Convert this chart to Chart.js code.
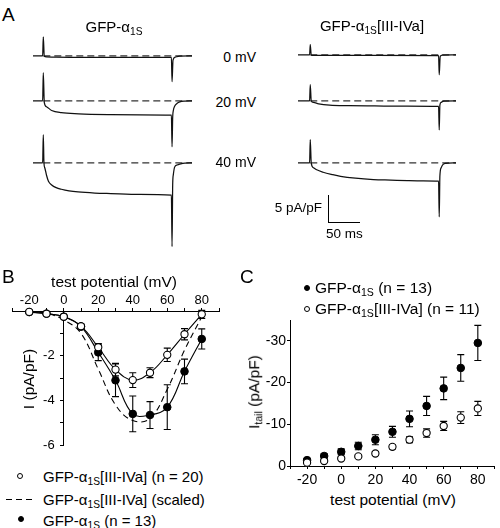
<!DOCTYPE html>
<html>
<head>
<meta charset="utf-8">
<script src="https://cdn.jsdelivr.net/npm/chart.js@4.4.1/dist/chart.umd.min.js"></script>
<style>
  html, body { margin: 0; padding: 0; background: #fff; }
  #fig { position: relative; width: 500px; height: 528px; overflow: hidden;
         font-family: "Liberation Sans", Arial, sans-serif; color: #000; }
  #fig canvas { position: absolute; }
  .t { position: absolute; white-space: nowrap; line-height: 1; }
  .t sub { font-size: 0.68em; vertical-align: -0.3em; line-height: 0; }
  .mk { position: absolute; border-radius: 50%; box-sizing: border-box; }
</style>
</head>
<body>
<div id="fig"></div>
<script>
// ---- panel A: sweeps, time in ms and current in pA/pF
const wtT0 = [-16, -1, 0, 1.5, 5, 20, 60, 120, 199, 200, 201.5, 205, 212, 231];
const wtI0 = [0, 0, 3.5, -0.1, -0.2, -0.25, -0.3, -0.3, -0.3, -4.8, -0.8, -0.25, -0.05, 0];
const wtT20 = [-16, -1, 0, 1.5, 5, 13, 28, 55, 105, 150, 199, 200, 201, 202, 204, 208, 212, 220, 231];
const wtI20 = [0, 0, 5.2, -0.3, -1.1, -1.8, -2.2, -2.4, -2.55, -2.6, -2.65, -8.5, -3.0, -1.8, -1.0, -0.45, -0.2, -0.05, 0];
const wtT40 = [-16, -1, 0, 1, 2.5, 5, 8, 13, 20, 28, 40, 54, 80, 105, 150, 199, 200, 201, 202, 204, 208, 212, 220, 231];
const wtI40 = [0, 0, 5.2, 0, -1.0, -2.3, -3.4, -4.1, -4.6, -4.9, -5.2, -5.4, -5.6, -5.7, -5.85, -6.0, -15.5, -4.0, -2.2, -0.8, -0.4, -0.25, -0.05, 0];

const mutT0 = [-19, -1, 0, 1.5, 5, 100, 199, 200, 201.5, 205, 226];
const mutI0 = [0, 0, 1.9, -0.05, -0.1, -0.12, -0.15, -3.7, -0.3, -0.05, 0];
const mutT20 = [-19, -1, 0, 1.5, 5, 13, 30, 60, 100, 150, 199, 200, 201, 203, 207, 226];
const mutI20 = [0, 0, 3.0, 0, -0.3, -0.55, -0.8, -0.9, -0.95, -1.0, -1.05, -5.4, -0.8, -0.3, -0.05, 0];
const mutT40 = [-19, -1, 0, 1.5, 5, 10, 20, 35, 47, 70, 98, 125, 151, 175, 199, 200, 201, 203, 206, 210, 226];
const mutI40 = [0, 0, 4.3, 0, -0.9, -1.3, -1.75, -2.2, -2.5, -2.85, -3.1, -3.2, -3.3, -3.35, -3.4, -10, -2.5, -0.9, -0.3, -0.1, 0];

// ---- panel B: I-V (pA/pF) with SEM
const potB = [-20, -10, 0, 10, 20, 30, 40, 50, 60, 70, 80];
const mutIV = [-0.04, -0.12, -0.26, -0.68, -1.62, -2.62, -3.09, -2.76, -1.96, -1.04, -0.15];
const mutIVErr = [0.03, 0.04, 0.06, 0.08, 0.16, 0.28, 0.33, 0.22, 0.3, 0.25, 0.18];
const wtIV = [-0.05, -0.12, -0.25, -0.7, -1.85, -3.1, -4.6, -4.65, -4.3, -2.7, -1.25];
const wtIVErr = [0.03, 0.04, 0.06, 0.1, 0.37, 0.73, 0.8, 0.6, 1.0, 0.55, 0.45];
const mutScaled = [-0.03, -0.1, -0.4, -1.0, -2.6, -4.2, -4.9, -4.8, -3.5, -1.75, -0.26];

// ---- panel C: tail currents (pA/pF) with SEM
const potC = [-20, -10, 0, 10, 20, 30, 40, 50, 60, 70, 80];
const wtTail = [-1.4, -2.4, -3.4, -4.8, -6.3, -8.2, -11.3, -14.4, -18.6, -23.5, -29.5];
const wtTailErr = [0.4, 0.5, 0.7, 0.9, 1.2, 1.3, 1.9, 2.3, 2.7, 3.2, 4.2];
const mutTail = [-0.8, -1.2, -1.8, -2.3, -3.0, -4.6, -6.3, -7.9, -9.6, -11.6, -13.8];
const mutTailErr = [0.2, 0.3, 0.3, 0.3, 0.4, 0.5, 0.7, 1.0, 1.1, 1.4, 1.7];

const FONT = '"Liberation Sans", Arial, sans-serif';
const fig = document.getElementById('fig');

function addCanvas(left, top, w, h) {
  const c = document.createElement('canvas');
  c.width = w; c.height = h;
  c.style.left = left + 'px'; c.style.top = top + 'px';
  c.style.width = w + 'px'; c.style.height = h + 'px';
  fig.appendChild(c);
  return c;
}

function label(html, x, y, size, align, rot) {
  const d = document.createElement('div');
  d.className = 't';
  d.innerHTML = html;
  d.style.fontSize = size + 'px';
  d.style.left = x + 'px';
  d.style.top = y + 'px';
  const tx = align === 'center' ? '-50%' : (align === 'right' ? '-100%' : '0');
  d.style.transform = 'translate(' + tx + ',-50%)' + (rot ? ' rotate(' + rot + 'deg)' : '');
  fig.appendChild(d);
}

function marker(x, y, r, filled) {
  const d = document.createElement('div');
  d.className = 'mk';
  d.style.left = (x - r) + 'px'; d.style.top = (y - r) + 'px';
  d.style.width = 2 * r + 'px'; d.style.height = 2 * r + 'px';
  d.style.background = filled ? '#000' : '#fff';
  d.style.border = '1.1px solid #000';
  fig.appendChild(d);
}

const pts = (xs, ys) => xs.map((v, k) => ({x: v, y: ys[k]}));

const base = {
  responsive: false, animation: false, devicePixelRatio: 1, events: [],
  plugins: {legend: {display: false}, tooltip: {enabled: false}}
};

// error bars drawn under the markers, from each dataset's "errors" array
const errorBars = {
  id: 'errorBars',
  beforeDatasetsDraw(chart) {
    const {ctx, scales: {x, y}} = chart;
    ctx.save();
    ctx.strokeStyle = '#000';
    ctx.lineWidth = 1.1;
    chart.data.datasets.forEach(ds => {
      if (!ds.errors) return;
      ds.data.forEach((p, k) => {
        const e = ds.errors[k];
        const px = x.getPixelForValue(p.x);
        const y1 = y.getPixelForValue(p.y - e);
        const y2 = y.getPixelForValue(p.y + e);
        ctx.beginPath();
        ctx.moveTo(px, y1); ctx.lineTo(px, y2);
        ctx.moveTo(px - 3.5, y1); ctx.lineTo(px + 3.5, y1);
        ctx.moveTo(px - 3.5, y2); ctx.lineTo(px + 3.5, y2);
        ctx.stroke();
      });
    });
    ctx.restore();
  }
};

// ---------------- panel A ----------------
const PX_MS = 0.644, PX_I = 5.4, I_MIN = -18, I_MAX = 7;

function traceChart(left, baseline, ts, is) {
  const t0 = ts[0], t1 = ts[ts.length - 1];
  const w = Math.round((t1 - t0) * PX_MS), h = Math.round((I_MAX - I_MIN) * PX_I);
  const c = addCanvas(left, baseline - I_MAX * PX_I, w, h);
  new Chart(c, {
    type: 'line',
    data: {datasets: [
      {data: pts(ts, is), borderColor: '#111', borderWidth: 1.25, pointRadius: 0,
       cubicInterpolationMode: 'monotone', clip: false},
      {data: [{x: 0, y: 0}, {x: t1, y: 0}], borderColor: '#333', borderWidth: 1.2,
       borderDash: [7, 4], pointRadius: 0, clip: false}
    ]},
    options: {...base,
      layout: {padding: 0},
      scales: {
        x: {type: 'linear', display: false, min: t0, max: t1},
        y: {type: 'linear', display: false, min: I_MIN, max: I_MAX}
      }
    }
  });
}

traceChart(33, 56, wtT0, wtI0);
traceChart(33, 101, wtT20, wtI20);
traceChart(33, 163, wtT40, wtI40);
traceChart(298, 55, mutT0, mutI0);
traceChart(298, 101, mutT20, mutI20);
traceChart(298, 163, mutT40, mutI40);

label('A', 2, 14, 19, 'left');
label('GFP-α<sub>1S</sub>', 114, 26, 15, 'center');
label('GFP-α<sub>1S</sub>[III-IVa]', 372, 25, 15, 'center');
label('0 mV', 256, 57, 14, 'right');
label('20 mV', 256, 102, 14, 'right');
label('40 mV', 256, 162, 14, 'right');
label('5 pA/pF', 322, 208, 13.5, 'right');
label('50 ms', 326, 234, 13.5, 'left');
const bar = document.createElement('div');
bar.style.cssText = 'position:absolute;left:328px;top:195px;width:31px;height:27px;' +
  'border-left:1.3px solid #000;border-bottom:1.3px solid #000;';
fig.appendChild(bar);

// ---------------- panel B ----------------
const cB = addCanvas(0, 285, 240, 171);
new Chart(cB, {
  type: 'line',
  data: {datasets: [
    {data: pts(potB, mutIV), errors: mutIVErr, showLine: true, tension: 0.4,
     borderColor: '#000', borderWidth: 1.1, pointRadius: 3.6, pointBorderWidth: 1.1,
     pointBackgroundColor: '#fff', pointBorderColor: '#000', clip: false},
    {data: pts(potB, wtIV), errors: wtIVErr, showLine: true, tension: 0.4,
     borderColor: '#000', borderWidth: 1.1, pointRadius: 3.8, pointBorderWidth: 1,
     pointBackgroundColor: '#000', pointBorderColor: '#000', clip: false},
    {data: pts(potB, mutScaled), showLine: true, tension: 0.4, borderDash: [6, 4],
     borderColor: '#000', borderWidth: 1.1, pointRadius: 0, clip: false}
  ]},
  options: {...base,
    layout: {padding: {left: 12, right: 21, top: 0, bottom: 8}},
    scales: {
      x: {type: 'linear', position: 'top', min: -30, max: 90,
          afterFit: s => { s.height = 26; },
          border: {color: '#000', width: 1},
          grid: {drawOnChartArea: false, tickLength: 3, color: '#000'},
          ticks: {stepSize: 10, autoSkip: false, maxRotation: 0, padding: 0, color: '#000',
                  font: {size: 13, family: FONT},
                  callback: v => (v % 20 === 0 && v >= -20 && v <= 80) ? v : ''}},
      y: {type: 'linear', position: {x: 0}, min: -6, max: 0,
          border: {color: '#000', width: 1},
          grid: {drawOnChartArea: false, tickLength: 3, color: '#000'},
          ticks: {stepSize: 1, autoSkip: false, color: '#000', font: {size: 13, family: FONT},
                  callback: v => (v < 0 && v % 2 === 0) ? v + '\u2002\u2009' : ''}}
    }
  },
  plugins: [errorBars]
});

label('B', 2, 276, 19, 'left');
label('test potential (mV)', 114, 282, 15.5, 'center');
label('I (pA/pF)', 29, 379, 15.5, 'center', -90);

marker(20, 476, 3, false);
label('GFP-α<sub>1S</sub>[III-IVa] (n = 20)', 43, 476, 15, 'left');
const dash = document.createElement('div');
dash.style.cssText = 'position:absolute;left:6px;top:499px;width:28px;height:1.2px;' +
  'background:repeating-linear-gradient(90deg,#000 0 6px,transparent 6px 10px);';
fig.appendChild(dash);
label('GFP-α<sub>1S</sub>[III-IVa] (scaled)', 43, 499, 15, 'left');
marker(21, 519, 3.3, true);
label('GFP-α<sub>1S</sub> (n = 13)', 43, 520, 15, 'left');

// ---------------- panel C ----------------
const cC = addCanvas(245, 310, 255, 180);
new Chart(cC, {
  type: 'line',
  data: {datasets: [
    {data: pts(potC, mutTail), errors: mutTailErr, showLine: false, pointRadius: 3.6,
     pointBorderWidth: 1.1, pointBackgroundColor: '#fff', pointBorderColor: '#000', clip: false},
    {data: pts(potC, wtTail), errors: wtTailErr, showLine: false, pointRadius: 3.8,
     pointBorderWidth: 1, pointBackgroundColor: '#000', pointBorderColor: '#000', clip: false}
  ]},
  options: {...base,
    layout: {padding: {left: 0, right: 2, top: 10, bottom: 0}},
    scales: {
      x: {type: 'linear', position: 'bottom', min: -30, max: 90,
          afterFit: s => { s.height = 24; },
          border: {color: '#000', width: 1},
          grid: {drawOnChartArea: false, tickLength: 3, color: '#000'},
          ticks: {stepSize: 10, autoSkip: false, maxRotation: 0, padding: 3, color: '#000',
                  font: {size: 14, family: FONT},
                  callback: v => (v % 20 === 0 && v >= -20 && v <= 80) ? v : ''}},
      y: {type: 'linear', position: 'left', min: -35, max: 0, reverse: true,
          afterFit: s => { s.width = 45; },
          border: {color: '#000', width: 1},
          grid: {drawOnChartArea: false, tickLength: 3,
                 color: ctx => (ctx.tick && ctx.tick.value % 10 !== 0) ? 'rgba(0,0,0,0)' : '#000'},
          ticks: {stepSize: 10, autoSkip: false, padding: 1, color: '#000',
                  font: {size: 14, family: FONT},
                  callback: v => v % 10 === 0 ? v : ''}}
    }
  },
  plugins: [errorBars]
});

label('C', 240, 276, 19, 'left');
marker(307, 288, 3.4, true);
label('GFP-α<sub>1S</sub> (n = 13)', 315, 288, 15.5, 'left');
marker(307, 309, 3, false);
label('GFP-α<sub>1S</sub>[III-IVa] (n = 11)', 315, 309, 15.5, 'left');
label('I<sub>tail</sub> (pA/pF)', 254, 392, 15.5, 'center', -90);
label('test potential (mV)', 393, 500, 15.5, 'center');
</script>
</body>
</html>
